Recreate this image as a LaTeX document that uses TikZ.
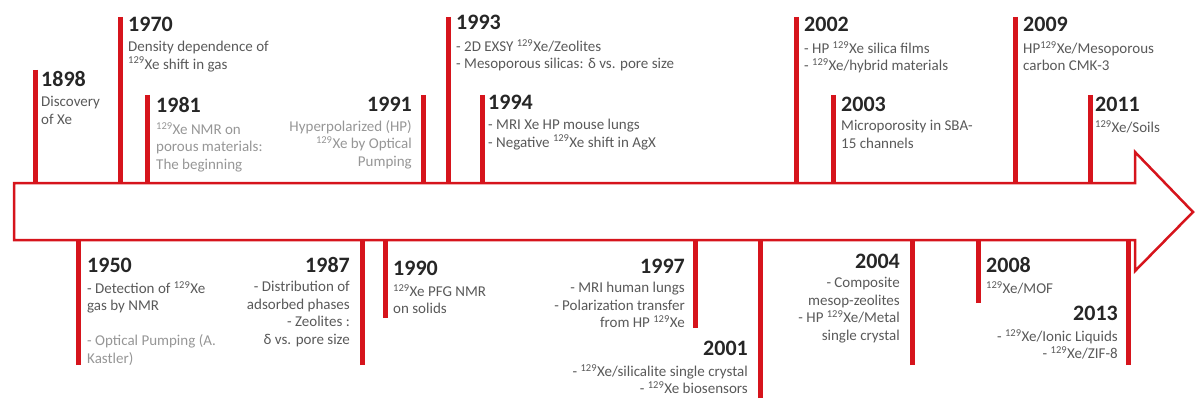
\documentclass[tikz,border=0pt]{standalone}
\usepackage{fontspec}
\setmainfont{Carlito}
\usetikzlibrary{positioning}
\definecolor{barred}{RGB}{214,20,28}
\definecolor{yearcol}{RGB}{38,38,38}
\definecolor{notecol}{RGB}{89,89,89}
\definecolor{faintcol}{RGB}{150,150,150}
\newcommand{\xe}{\textsuperscript{129}Xe}

\begin{document}
\begin{tikzpicture}[x=1pt,y=-1pt,
      yearbar/.style={draw=barred,line width=5pt},
      yearlbl/.style={font=\bfseries\fontsize{22}{24}\selectfont,text=yearcol,inner sep=0pt},
      note/.style={font=\fontsize{15}{17.5}\selectfont,text=notecol,inner sep=0pt,execute at begin node=\strut},
      lnote/.style={note,align=left},
      rnote/.style={note,align=right},
      faint/.style={text=faintcol}]
      \useasboundingbox (0,0) rectangle (1195,412);

      % bars above and below the time axis
      \coordinate (axtop) at (0,183);
      \coordinate (axbot) at (0,240);
      \foreach \n/\x/\y in {1898/35/70,1970/120/17,1981/147/95,1991/423/95,1993/448/17,
                            1994/482/95,2002/796/17,2003/833/95,2009/1015/17,2011/1090/95}
        {\coordinate (top\n) at (\x,\y);
         \draw[yearbar] (top\n) -- (top\n |- axtop);}
      \foreach \n/\x/\y in {1950/78/365,1987/362/365,1990/385/318,1997/695/328,2001/760/398,
                            2004/912/365,2008/978/303,2013/1128/365}
        {\coordinate (bot\n) at (\x,\y);
         \draw[yearbar] (bot\n) -- (bot\n |- axbot);}

      % the arrow
      \draw[barred,line width=2.5pt,fill=white,line join=miter]
        (14,183) -- (1135,183) -- (1135,152) -- (1193,212) -- (1135,271) -- (1135,240) -- (14,240) -- cycle;

      % upper labels
      \node[yearlbl,anchor=base west] (y1898) at (41,87) {1898};
      \node[lnote,below right=9pt and 0pt of y1898.base west] (n1898) {Discovery\\of Xe};
      \node[yearlbl,anchor=base west] (y1970) at (128,32) {1970};
      \node[lnote,below right=9pt and 0pt of y1970.base west] (n1970) {Density dependence of\\\xe{} shift in gas};
      \node[yearlbl,anchor=base west] (y1981) at (156,113) {1981};
      \node[lnote,faint,below right=9pt and 0pt of y1981.base west] (n1981) {\xe{} NMR on\\porous materials:\\The beginning};
      \node[yearlbl,anchor=base east] (y1991) at (412,111) {1991};
      \node[rnote,faint,below left=9pt and 0pt of y1991.base east] (n1991) {Hyperpolarized (HP)\\\xe{} by Optical\\Pumping};
      \node[yearlbl,anchor=base west] (y1993) at (456,30) {1993};
      \node[lnote,below right=9pt and 0pt of y1993.base west] (n1993) {- 2D EXSY \xe/Zeolites\\- Mesoporous silicas: δ vs. pore size};
      \node[yearlbl,anchor=base west] (y1994) at (488,110) {1994};
      \node[lnote,below right=9pt and 0pt of y1994.base west] (n1994) {- MRI Xe HP mouse lungs\\- Negative \xe{} shift in AgX};
      \node[yearlbl,anchor=base west] (y2002) at (804,32) {2002};
      \node[lnote,below right=9pt and 0pt of y2002.base west] (n2002) {- HP \xe{} silica films\\- \xe/hybrid materials};
      \node[yearlbl,anchor=base west] (y2003) at (841,111) {2003};
      \node[lnote,below right=9pt and 0pt of y2003.base west] (n2003) {Microporosity in SBA-\\15 channels};
      \node[yearlbl,anchor=base west] (y2009) at (1023,32) {2009};
      \node[lnote,below right=9pt and 0pt of y2009.base west] (n2009) {HP\xe/Mesoporous\\carbon CMK-3};
      \node[yearlbl,anchor=base west] (y2011) at (1095,111) {2011};
      \node[lnote,below right=9pt and 0pt of y2011.base west] (n2011) {\xe/Soils};

      % lower labels
      \node[yearlbl,anchor=base west] (y1950) at (87,272) {1950};
      \node[lnote,below right=9pt and 0pt of y1950.base west] (n1950)
        {- Detection of \xe\\gas by NMR\\ \\\textcolor{faintcol}{- Optical Pumping (A.}\\\textcolor{faintcol}{Kastler)}};
      \node[yearlbl,anchor=base east] (y1987) at (350,272) {1987};
      \node[rnote,below left=9pt and 0pt of y1987.base east] (n1987) {- Distribution of\\adsorbed phases\\- Zeolites :\\δ vs. pore size};
      \node[yearlbl,anchor=base west] (y1990) at (393,275) {1990};
      \node[lnote,below right=9pt and 0pt of y1990.base west] (n1990) {\xe{} PFG NMR\\on solids};
      \node[yearlbl,anchor=base east] (y1997) at (685,273) {1997};
      \node[rnote,below left=9pt and 0pt of y1997.base east] (n1997) {- MRI human lungs\\- Polarization transfer\\from HP \xe};
      \node[yearlbl,anchor=base east] (y2001) at (748,355) {2001};
      \node[rnote,below left=9pt and 0pt of y2001.base east] (n2001) {- \xe/silicalite single crystal\\- \xe{} biosensors};
      \node[yearlbl,anchor=base east] (y2004) at (900,268) {2004};
      \node[rnote,below left=9pt and 0pt of y2004.base east] (n2004) {- Composite\\mesop-zeolites\\- HP \xe/Metal\\single crystal};
      \node[yearlbl,anchor=base west] (y2008) at (986,272) {2008};
      \node[lnote,below right=9pt and 0pt of y2008.base west] (n2008) {\xe/MOF};
      \node[yearlbl,anchor=base east] (y2013) at (1118,320) {2013};
      \node[rnote,below left=9pt and 0pt of y2013.base east] (n2013) {- \xe/Ionic Liquids\\- \xe/ZIF-8};
\end{tikzpicture}
\end{document}
